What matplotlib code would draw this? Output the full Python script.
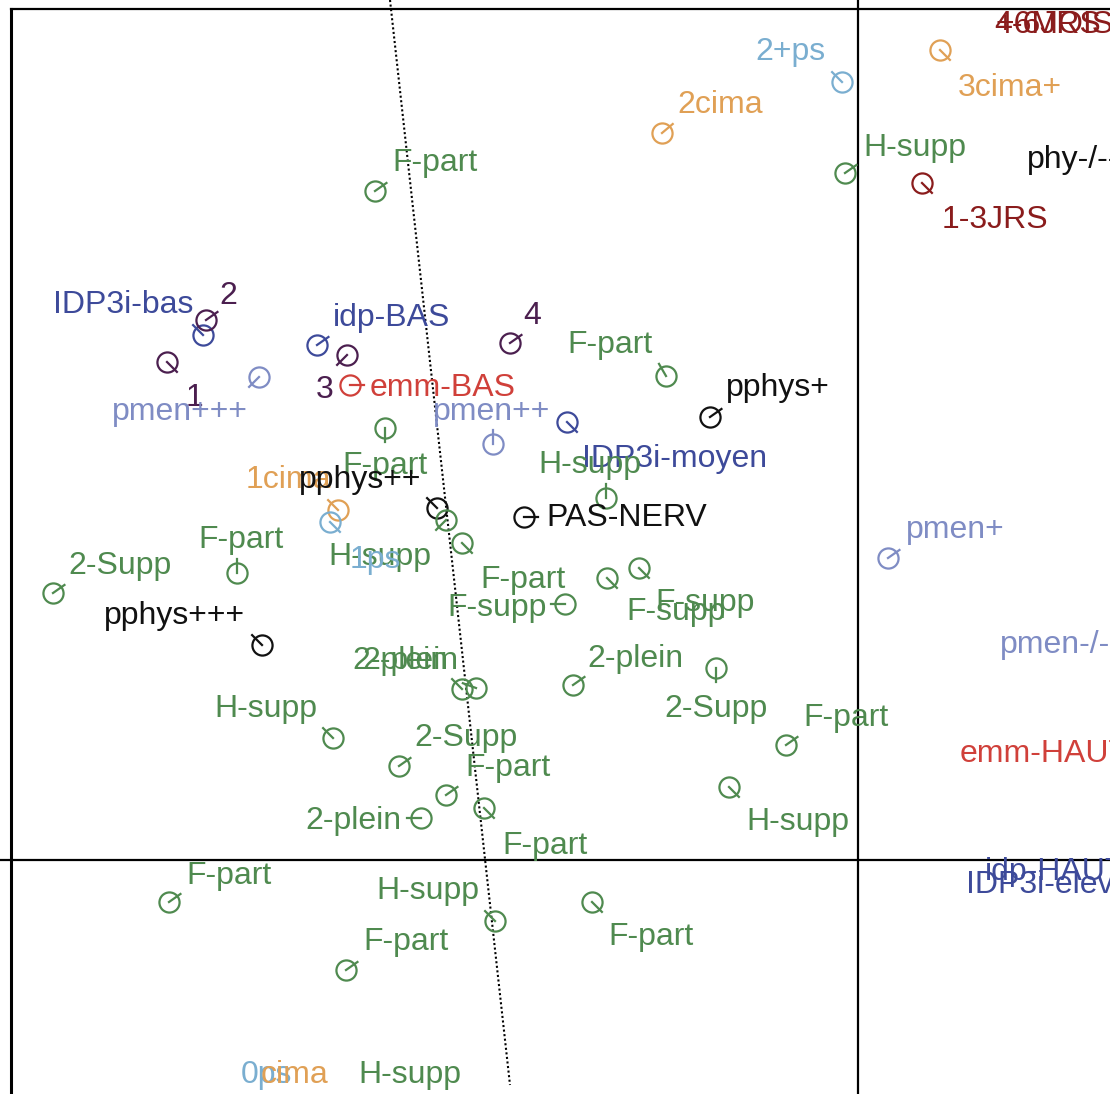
import matplotlib.pyplot as plt
import numpy as np

plt.rcParams['font.family'] = ['Liberation Sans', 'DejaVu Sans']

# colours for each group of modalities
cols = {'vert': '#4f8a4f', 'orange': '#e0a055', 'bleuc': '#7aaed0', 'bleu': '#3d4a9a',
        'violet': '#4b1f4f', 'pmen': '#7f8cc4', 'rouge': '#d0403a', 'brun': '#8a1c1c',
        'noir': '#111111'}

# points: factor coordinates, group, direction of the small tick (degrees)
pt_x = [-0.16, -1.96, 0.82, -0.13, 0.64, -4.83, -6.55, -6.52, -6.91, -5.99,
        -5.41, -5.11, -5.08, -3.48, -1.92, -1.48, -3.65, -2.91, -4.73, -2.52,
        -5.20, -5.28, -4.21, -3.34, -4.12, -3.96, -6.21, -8.05, -5.96, -2.93,
        -2.51, -2.19, -3.96, -3.82, -2.85, -1.42, -5.25, -4.59, -0.72, -1.29,
        -4.12, -3.74, -4.37, -6.89, -3.63, -5.12, -2.66, 0.30]
pt_y = [7.78, 7.27, 8.10, 6.87, 6.77, 6.69, 5.25, 5.40, 4.98, 4.83,
        5.15, 5.05, 4.75, 5.17, 4.84, 4.43, 4.16, 4.38, 4.32, 3.62,
        3.50, 3.38, 3.52, 3.43, 3.40, 3.17, 2.87, 2.67, 2.15, 2.56,
        2.82, 2.92, 1.71, 1.72, 1.75, 1.92, 1.22, 0.94, 1.15, 0.73,
        0.65, 0.52, 0.42, -0.42, -0.61, -1.10, -0.42, 3.02]
pt_grp = ['bleuc', 'orange', 'orange', 'vert', 'brun', 'vert', 'bleu', 'violet', 'violet', 'pmen',
          'bleu', 'violet', 'rouge', 'violet', 'vert', 'noir', 'pmen', 'bleu', 'vert', 'vert',
          'orange', 'bleuc', 'noir', 'noir', 'vert', 'vert', 'vert', 'vert', 'noir', 'vert',
          'vert', 'vert', 'vert', 'vert', 'vert', 'vert', 'vert', 'vert', 'vert', 'vert',
          'vert', 'vert', 'vert', 'vert', 'vert', 'vert', 'vert', 'pmen']
pt_ang = [135, 40, -45, 35, -45, 35, 135, 35, -45, -135,
          35, -135, 0, 35, 120, 35, 90, -45, -90, 90,
          135, -45, 135, 0, -135, -45, 90, 35, 135, 180,
          -45, -45, 135, 160, 35, -90, 135, 35, 35, -45,
          35, -45, 180, 35, 135, 35, -45, 35]

# labels: text, centre coordinates, group
lab_txt = ['2+ps', '2cima', '3cima+', 'H-supp', '1-3JRS', 'phy-/--', 'F-part', 'IDP3i-bas', '2', '1',
           'pmen+++', 'idp-BAS', '3', 'emm-BAS', '4', 'F-part', 'pphys+', 'pmen++', 'IDP3i-moyen', 'H-supp',
           'F-part', '1cima', 'pphys++', 'PAS-NERV', 'F-part', 'H-supp', '1ps', '2-Supp', 'pphys+++', 'F-part',
           'F-supp', 'F-supp', 'F-supp', '2-plein', '2-plein', '2-plein', 'H-supp', '2-Supp', '2-Supp', 'F-part',
           'F-part', 'H-supp', '2-plein', 'F-part', 'F-part', 'H-supp', 'F-part', 'F-part', '0ps', 'cima',
           'H-supp', 'pmen+', 'pmen-/-', 'emm-HAUT', 'idp-HAUT', 'IDP3i-eleve', '4-6JRS', '+6MOIS']
lab_x = [-0.68, -1.38, 1.52, 0.57, 1.37, 2.15, -4.23, -7.35, -6.30, -6.63,
         -6.78, -4.66, -5.33, -4.15, -3.26, -2.48, -0.80, -3.66, -1.83, -2.68,
         -4.73, -5.70, -4.98, -2.31, -6.17, -4.78, -4.83, -7.38, -6.83, -3.35,
         -3.61, -1.82, -1.53, -4.58, -4.48, -2.23, -5.92, -3.92, -1.42, -3.50,
         -0.12, -0.60, -5.05, -3.13, -6.29, -4.30, -4.52, -2.07, -5.92, -5.63,
         -4.48, 0.97, 1.97, 1.86, 1.97, 1.91, 1.90, 1.97]
lab_y = [8.08, 7.55, 7.72, 7.12, 6.40, 7.00, 6.97, 5.55, 5.64, 4.62,
         4.48, 5.42, 4.70, 4.72, 5.44, 5.15, 4.72, 4.48, 4.01, 3.95,
         3.94, 3.80, 3.80, 3.42, 3.20, 3.03, 3.00, 2.94, 2.44, 2.80,
         2.52, 2.48, 2.57, 1.99, 1.99, 2.01, 1.51, 1.22, 1.51, 0.92,
         1.42, 0.38, 0.39, 0.14, -0.16, -0.31, -0.82, -0.77, -2.15, -2.15,
         -2.15, 3.30, 2.15, 1.06, -0.12, -0.25, 8.35, 8.35]
lab_grp = ['bleuc', 'orange', 'orange', 'vert', 'brun', 'noir', 'vert', 'bleu', 'violet', 'violet',
           'pmen', 'bleu', 'violet', 'rouge', 'violet', 'vert', 'noir', 'pmen', 'bleu', 'vert',
           'vert', 'orange', 'noir', 'noir', 'vert', 'vert', 'bleuc', 'vert', 'noir', 'vert',
           'vert', 'vert', 'vert', 'vert', 'vert', 'vert', 'vert', 'vert', 'vert', 'vert',
           'vert', 'vert', 'vert', 'vert', 'vert', 'vert', 'vert', 'vert', 'bleuc', 'orange',
           'vert', 'pmen', 'pmen', 'rouge', 'bleu', 'bleu', 'brun', 'brun']

fig = plt.figure(figsize=(11.1, 10.94), dpi=100)
ax = fig.add_axes([0, 0, 1, 1])
ax.set_xlim(-8.58, 2.52)
ax.set_ylim(-2.34, 8.60)
ax.axis('off')

# frame, axes through origin and the dotted direction
ax.plot([-8.47, 2.52], [8.51, 8.51], color='black', lw=1.6)
ax.plot([-8.47, -8.47], [8.51, -2.34], color='black', lw=2.2)
ax.axvline(0, color='black', lw=1.6)
ax.axhline(0, color='black', lw=1.6)
ax.plot([-4.68, -3.48], [8.60, -2.25], color='black', lw=1.5, ls=(0, (1, 1.2)))

# points with their tick
L = 0.14
for x, y, g, a in zip(pt_x, pt_y, pt_grp, pt_ang):
    c = cols[g]
    ax.plot(x, y, 'o', ms=14.5, mfc='none', mec=c, mew=1.6)
    r = np.deg2rad(a)
    ax.plot([x, x + L * np.cos(r)], [y, y + L * np.sin(r)], color=c, lw=1.6)

for t, x, y, g in zip(lab_txt, lab_x, lab_y, lab_grp):
    ax.text(x, y, t, color=cols[g], fontsize=23, ha='center', va='center')

fig.savefig('out.png', dpi=100)
